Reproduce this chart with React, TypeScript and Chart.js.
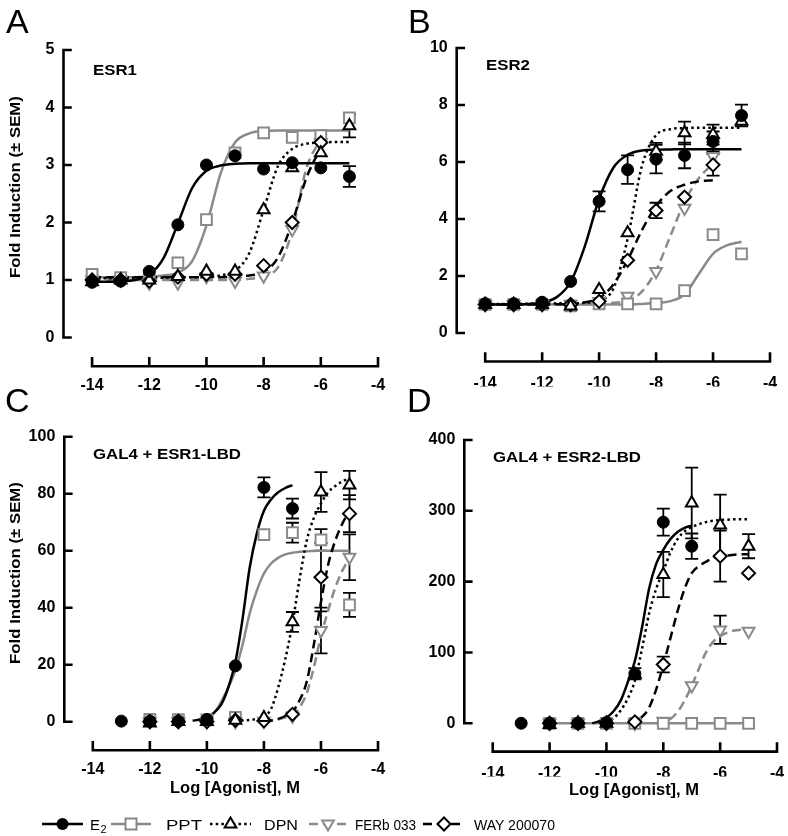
import React, { useEffect, useRef } from 'react';
import { Chart, registerables } from 'chart.js';

Chart.register(...registerables);

const BLACK = '#000000';
const GRAY = '#8a8a8a';
const FONT_FAMILY = "'Liberation Sans', Arial, Helvetica, sans-serif";

// ---------- shared axes ----------
const X_TICKS = [-14, -12, -10, -8, -6, -4];
const DOSE_AB = [-14, -13, -12, -11, -10, -9, -8, -7, -6, -5];
const DOSE_CD = [-13, -12, -11, -10, -9, -8, -7, -6, -5];
const FIT_AB = [-14, -13.5, -13, -12.5, -12, -11.5, -11, -10.5, -10, -9.5, -9, -8.5, -8, -7.5, -7, -6.5, -6, -5.5, -5];
const FIT_CD = [-12, -11.75, -11.5, -11.25, -11, -10.75, -10.5, -10.25, -10, -9.75, -9.5, -9.25, -9, -8.75, -8.5, -8.25, -8, -7.75, -7.5, -7.25, -7, -6.75, -6.5, -6.25, -6, -5.75, -5.5, -5.25, -5];

const A_Y_TICKS = [0, 1, 2, 3, 4, 5];
const B_Y_TICKS = [0, 2, 4, 6, 8, 10];
const C_Y_TICKS = [0, 20, 40, 60, 80, 100];
const D_Y_TICKS = [0, 100, 200, 300, 400];

// ---------- Panel A : ESR1 ----------
const A_E2 = [0.96, 0.98, 1.15, 1.96, 3.0, 3.16, 2.93, 3.04, 2.95, 2.8];
const A_E2_ERR = [null, null, null, null, null, null, null, null, null, 0.18];
const A_PPT = [1.1, 1.04, 1.08, 1.3, 2.05, 3.21, 3.56, 3.48, 3.51, 3.82];
const A_DPN = [0.97, 1.0, 1.0, 1.06, 1.15, 1.15, 2.22, 2.95, 3.21, 3.68];
const A_DPN_ERR = [null, null, null, null, null, null, null, null, null, 0.2];
const A_FERB = [1.0, 1.0, 0.95, 0.95, 1.06, 0.98, 1.07, 1.88, 3.39, null];
const A_WAY = [1.0, 1.0, 0.98, 1.05, 1.1, 1.1, 1.25, 2.0, 3.39, null];

const A_E2_FIT = [0.97, 0.97, 0.98, 1.0, 1.09, 1.38, 1.98, 2.6, 2.9, 2.99, 3.02, 3.03, 3.03, 3.03, 3.03, 3.03, 3.03, 3.03, 3.03];
const A_PPT_FIT = [1.05, 1.05, 1.05, 1.05, 1.06, 1.08, 1.13, 1.33, 1.95, 2.86, 3.39, 3.55, 3.59, 3.6, 3.6, 3.6, 3.6, 3.6, 3.6];
const A_DPN_FIT = [1.03, 1.03, 1.03, 1.04, 1.04, 1.04, 1.04, 1.05, 1.05, 1.08, 1.16, 1.47, 2.22, 2.98, 3.28, 3.37, 3.39, 3.4, 3.4];
const A_FERB_FIT = [1.0, 1.0, 1.0, 1.0, 1.0, 1.0, 1.0, 1.0, 1.0, 1.0, 1.0, 1.02, 1.06, 1.22, 1.85, 2.95, 3.45, null, null];
const A_WAY_FIT = [1.05, 1.05, 1.05, 1.05, 1.05, 1.05, 1.05, 1.05, 1.05, 1.05, 1.06, 1.08, 1.14, 1.39, 2.0, 2.78, 3.3, null, null];

// ---------- Panel B : ESR2 ----------
const B_E2 = [1.03, 1.03, 1.08, 1.81, 4.62, 5.73, 6.1, 6.23, 6.72, 7.63];
const B_E2_ERR = [null, null, null, null, 0.35, 0.5, 0.5, 0.45, 0.35, 0.38];
const B_PPT = [1.0, 1.0, 1.0, 0.95, 1.02, 1.02, 1.02, 1.49, 3.45, 2.78];
const B_DPN = [1.0, 1.0, 1.0, 0.94, 1.52, 3.51, 6.37, 7.02, 6.96, 7.43];
const B_DPN_ERR = [null, null, null, null, null, null, 0.3, 0.4, 0.35, null];
const B_FERB = [1.0, 1.0, 1.0, 1.0, 1.11, 1.29, 2.16, 4.38, 6.2, null];
const B_WAY = [1.0, 1.0, 1.0, 1.0, 1.11, 2.55, 4.3, 4.77, 5.9, null];
const B_WAY_ERR = [null, null, null, null, null, null, 0.27, null, 0.38, null];

const B_E2_FIT = [1.0, 1.0, 1.0, 1.02, 1.07, 1.25, 1.79, 3.05, 4.7, 5.8, 6.25, 6.4, 6.43, 6.44, 6.45, 6.45, 6.45, 6.45, 6.45];
const B_PPT_FIT = [1.0, 1.0, 1.0, 1.0, 1.0, 1.0, 1.0, 1.0, 1.0, 1.0, 1.0, 1.02, 1.05, 1.12, 1.35, 2.07, 2.78, 3.08, 3.2];
const B_DPN_FIT = [1.02, 1.02, 1.02, 1.03, 1.03, 1.04, 1.04, 1.06, 1.14, 1.56, 3.3, 5.85, 6.94, 7.15, 7.19, 7.2, 7.2, 7.2, 7.2];
const B_FERB_FIT = [1.0, 1.0, 1.0, 1.0, 1.0, 1.0, 1.0, 1.01, 1.02, 1.06, 1.13, 1.45, 2.2, 3.4, 4.6, 5.43, 5.95, null, null];
const B_WAY_FIT = [1.0, 1.0, 1.0, 1.0, 1.0, 1.01, 1.02, 1.08, 1.22, 1.7, 2.56, 3.6, 4.45, 4.98, 5.2, 5.32, 5.36, null, null];

// ---------- Panel C : GAL4 + ESR1-LBD ----------
const C_E2 = [0.2, 0.2, 0.2, 0.8, 19.6, 82.2, 74.8, null, null];
const C_E2_ERR = [null, null, null, null, null, 3.5, 3.5, null, null];
const C_PPT = [null, 0.8, 0.7, 0.6, 1.5, 65.6, 66.3, 63.8, 41];
const C_PPT_ERR = [null, null, null, null, null, null, 3.5, 3.8, 4.2];
const C_DPN = [null, -0.5, 0, 0, 0.5, 1.4, 35, 80.6, 83];
const C_DPN_ERR = [null, null, null, null, null, null, 3.5, 7, 5];
const C_FERB = [null, 0, 0, 0, 0, 0.2, 2.0, 32, 57.7];
const C_FERB_ERR = [null, null, null, null, null, null, null, 8, 8];
const C_WAY = [null, 0, 0, 0, 0.5, 0.3, 2.6, 50.7, 73];
const C_WAY_ERR = [null, null, null, null, null, null, null, 12, 6.5];

const C_E2_FIT = [null, null, null, null, null, null, 0.3, 0.8, 1.5, 3.2, 6, 12, 21, 36, 54, 66, 74, 78, 80.5, 82, 83, null, null, null, null, null, null, null, null];
const C_PPT_FIT = [null, null, null, null, null, null, null, null, 0.8, 3, 7, 12, 18, 27, 38, 46, 52, 55.5, 57.5, 58.7, 59.3, 59.6, 59.8, 59.9, 60, 60, 60, 60, 60];
const C_DPN_FIT = [null, null, null, null, null, null, null, null, null, null, null, null, 0.2, 0.4, 0.6, 1, 1.7, 4.5, 12, 22, 34.5, 50, 63.5, 71.5, 76.6, 80.5, 82.7, 84.3, 85.4];
const C_FERB_FIT = [null, null, null, null, null, null, null, null, null, null, null, null, null, null, null, null, 0, 0.3, 0.8, 1.5, 2.5, 5, 10, 19, 30, 39, 47, 53, 57.5];
const C_WAY_FIT = [null, null, null, null, null, null, null, null, null, null, null, null, null, null, null, null, 0, 0.4, 1, 2, 3.5, 7.5, 14, 27, 42, 55, 63.5, 69.5, 74];

// ---------- Panel D : GAL4 + ESR2-LBD ----------
const D_E2 = [0, 0, 0, 1, 70, 284, 250, null, null];
const D_E2_ERR = [null, null, null, null, 8, 19, 18, null, null];
const D_PPT = [null, 0, 0, 0, 0, 0, 0, 0, 0];
const D_DPN = [null, -2, 0, 0, 69, 210, 311, 280, 250];
const D_DPN_ERR = [null, null, null, null, null, 32, 50, 43, 17];
const D_FERB = [null, 0, 0, 0, 0, 3, 53, 132, 130];
const D_FERB_ERR = [null, null, null, null, null, null, null, 20, null];
const D_WAY = [null, 0, 0, 0, 2, 83, null, 236, 212];
const D_WAY_ERR = [null, null, null, null, null, 11, null, 36, null];

const D_E2_FIT = [null, null, null, null, null, null, 0, 3, 8, 17, 32, 58, 88, 135, 190, 225, 245, 260, 270, 276, 279, null, null, null, null, null, null, null, null];
const D_PPT_FIT = [0, 0, 0, 0, 0, 0, 0, 0, 0, 0, 0, 0, 0, 0, 0, 0, 0, 0, 0, 0, 0, 0, 0, 0, 0, 0, 0, 0, 0];
const D_DPN_FIT = [null, null, null, null, null, null, null, null, 0, 7, 18, 35, 60, 105, 155, 190, 215, 241, 260, 271, 277, 281, 284, 286, 287, 287.5, 288, 288, 288];
const D_FERB_FIT = [null, null, null, null, null, null, null, null, null, null, null, null, null, null, null, 0, 2, 6, 16, 32, 53, 77, 100, 115, 123, 128, 131, 132, 133];
const D_WAY_FIT = [null, null, null, null, null, null, null, null, null, null, null, 0, 3, 9, 22, 48, 82, 120, 158, 190, 212, 222, 228, 233, 236, 237, 238, 238.5, 238.5];

// ---------- styles ----------
type Key = 'E2' | 'PPT' | 'DPN' | 'FERB' | 'WAY';
const STYLE: Record<Key, any> = {
  E2: { color: BLACK, dash: [], pointStyle: 'circle', rotation: 0, fill: BLACK, radius: 6, pw: 1 },
  PPT: { color: GRAY, dash: [], pointStyle: 'rect', rotation: 0, fill: '#ffffff', radius: 7.6, pw: 2 },
  DPN: { color: BLACK, dash: [2.5, 3.2], pointStyle: 'triangle', rotation: 0, fill: '#ffffff', radius: 6.8, pw: 2 },
  FERB: { color: GRAY, dash: [9, 5], pointStyle: 'triangle', rotation: 180, fill: '#ffffff', radius: 6.8, pw: 2 },
  WAY: { color: BLACK, dash: [9, 5], pointStyle: 'rectRot', rotation: 0, fill: '#ffffff', radius: 6.5, pw: 2 },
};
const DRAW_ORDER: Key[] = ['E2', 'DPN', 'WAY', 'PPT', 'FERB'];

const PANELS: any[] = [
  {
    letter: 'A', title: 'ESR1',
    canvas: { left: 0, top: 0, w: 394, h: 400 },
    area: { L: 63.5, T: 50, R: 378, B: 366.25 },
    xPad: 10,
    yMin: -0.5, yMax: 5, yTicks: A_Y_TICKS, dose: DOSE_AB, fitX: FIT_AB,
    series: {
      E2: { pts: A_E2, err: A_E2_ERR, fit: A_E2_FIT },
      PPT: { pts: A_PPT, err: null, fit: A_PPT_FIT },
      DPN: { pts: A_DPN, err: A_DPN_ERR, fit: A_DPN_FIT },
      FERB: { pts: A_FERB, err: null, fit: A_FERB_FIT },
      WAY: { pts: A_WAY, err: null, fit: A_WAY_FIT },
    },
    letterPos: [6, 33], titlePos: [93, 75], yTitle: [20, 187], xTitle: null,
  },
  {
    letter: 'B', title: 'ESR2',
    canvas: { left: 394, top: 0, w: 394, h: 400 },
    area: { L: 456.7, T: 48, R: 770, B: 361.5 },
    xPad: 12,
    yMin: -1, yMax: 10, yTicks: B_Y_TICKS, dose: DOSE_AB, fitX: FIT_AB,
    series: {
      E2: { pts: B_E2, err: B_E2_ERR, fit: B_E2_FIT },
      PPT: { pts: B_PPT, err: null, fit: B_PPT_FIT },
      DPN: { pts: B_DPN, err: B_DPN_ERR, fit: B_DPN_FIT },
      FERB: { pts: B_FERB, err: null, fit: B_FERB_FIT },
      WAY: { pts: B_WAY, err: B_WAY_ERR, fit: B_WAY_FIT },
    },
    letterPos: [408, 33], titlePos: [486, 70], yTitle: null, xTitle: null,
  },
  {
    letter: 'C', title: 'GAL4 + ESR1-LBD',
    canvas: { left: 0, top: 380, w: 394, h: 420 },
    area: { L: 64.3, T: 436.7, R: 378, B: 750.2 },
    xPad: 10,
    yMin: -10, yMax: 100, yTicks: C_Y_TICKS, dose: DOSE_CD, fitX: FIT_CD,
    series: {
      E2: { pts: C_E2, err: C_E2_ERR, fit: C_E2_FIT },
      PPT: { pts: C_PPT, err: C_PPT_ERR, fit: C_PPT_FIT },
      DPN: { pts: C_DPN, err: C_DPN_ERR, fit: C_DPN_FIT },
      FERB: { pts: C_FERB, err: C_FERB_ERR, fit: C_FERB_FIT },
      WAY: { pts: C_WAY, err: C_WAY_ERR, fit: C_WAY_FIT },
    },
    letterPos: [5, 412], titlePos: [93, 459], yTitle: [20, 573], xTitle: [235, 793],
  },
  {
    letter: 'D', title: 'GAL4 + ESR2-LBD',
    canvas: { left: 394, top: 380, w: 394, h: 420 },
    area: { L: 464.3, T: 440, R: 777, B: 751.6 },
    xPad: 12,
    yMin: -40, yMax: 400, yTicks: D_Y_TICKS, dose: DOSE_CD, fitX: FIT_CD,
    series: {
      E2: { pts: D_E2, err: D_E2_ERR, fit: D_E2_FIT },
      PPT: { pts: D_PPT, err: null, fit: D_PPT_FIT },
      DPN: { pts: D_DPN, err: D_DPN_ERR, fit: D_DPN_FIT },
      FERB: { pts: D_FERB, err: D_FERB_ERR, fit: D_FERB_FIT },
      WAY: { pts: D_WAY, err: D_WAY_ERR, fit: D_WAY_FIT },
    },
    letterPos: [407, 412], titlePos: [493, 462], yTitle: null, xTitle: [634, 795],
  },
];

function stretchText(ctx: CanvasRenderingContext2D, text: string, x: number, y: number, font: string, sx: number, align: CanvasTextAlign, rotate = 0) {
  ctx.save();
  ctx.translate(x, y);
  if (rotate) ctx.rotate(rotate);
  ctx.scale(sx, 1);
  ctx.font = font;
  ctx.fillStyle = '#000';
  ctx.textAlign = align;
  ctx.textBaseline = 'alphabetic';
  ctx.fillText(text, 0, 0);
  ctx.restore();
}

function decorPlugin(spec: any) {
  const ox = spec.canvas.left;
  const oy = spec.canvas.top;
  return {
    id: 'decor' + spec.letter,
    beforeDatasetsDraw(chart: any) {
      const ctx = chart.ctx;
      const xs = chart.scales.x;
      const ys = chart.scales.y;
      ctx.save();
      ctx.strokeStyle = '#000';
      ctx.lineWidth = 1.8;
      ctx.setLineDash([]);
      chart.data.datasets.forEach((ds: any) => {
        if (!ds.errorBars) return;
        ds.data.forEach((p: any) => {
          if (p.e === null || p.e === undefined) return;
          const px = xs.getPixelForValue(p.x);
          const pt = ys.getPixelForValue(p.y + p.e);
          const pb = ys.getPixelForValue(p.y - p.e);
          ctx.beginPath();
          ctx.moveTo(px, pt);
          ctx.lineTo(px, pb);
          ctx.moveTo(px - 6.5, pt);
          ctx.lineTo(px + 6.5, pt);
          ctx.moveTo(px - 6.5, pb);
          ctx.lineTo(px + 6.5, pb);
          ctx.stroke();
        });
      });
      ctx.restore();
    },
    afterDraw(chart: any) {
      const ctx = chart.ctx;
      const xs = chart.scales.x;
      const ys = chart.scales.y;
      const { left, bottom } = chart.chartArea;
      ctx.save();
      ctx.strokeStyle = '#000';
      ctx.lineWidth = 2.6;
      ctx.setLineDash([]);
      ctx.lineCap = 'square';
      const y0 = ys.getPixelForValue(0);
      const yM = ys.getPixelForValue(spec.yMax);
      ctx.beginPath();
      ctx.moveTo(left, y0);
      ctx.lineTo(left, yM);
      spec.yTicks.forEach((v: number) => {
        const p = ys.getPixelForValue(v);
        ctx.moveTo(left, p);
        ctx.lineTo(left + 7, p);
      });
      const xa = xs.getPixelForValue(X_TICKS[0]);
      const xb = xs.getPixelForValue(X_TICKS[X_TICKS.length - 1]);
      ctx.moveTo(xa, bottom);
      ctx.lineTo(xb, bottom);
      X_TICKS.forEach((v) => {
        const p = xs.getPixelForValue(v);
        ctx.moveTo(p, bottom);
        ctx.lineTo(p, bottom - 8);
      });
      ctx.stroke();
      ctx.restore();

      stretchText(ctx, spec.letter, spec.letterPos[0] - ox, spec.letterPos[1] - oy, `34px ${FONT_FAMILY}`, 1, 'left');
      stretchText(ctx, spec.title, spec.titlePos[0] - ox, spec.titlePos[1] - oy, `bold 15px ${FONT_FAMILY}`, 1.12, 'left');
      if (spec.yTitle) {
        stretchText(ctx, 'Fold Induction (\u00b1 SEM)', spec.yTitle[0] - ox, spec.yTitle[1] - oy, `bold 15px ${FONT_FAMILY}`, 1.12, 'center', -Math.PI / 2);
      }
      if (spec.xTitle) {
        stretchText(ctx, 'Log [Agonist], M', spec.xTitle[0] - ox, spec.xTitle[1] - oy, `bold 16px ${FONT_FAMILY}`, 1.03, 'center');
      }
    },
  };
}

function buildConfig(spec: any) {
  const datasets: any[] = [];
  DRAW_ORDER.forEach((k) => {
    const s = spec.series[k];
    const st = STYLE[k];
    const data: any[] = [];
    spec.dose.forEach((x: number, i: number) => {
      const y = s.pts[i];
      if (y !== null && y !== undefined) data.push({ x, y, e: s.err ? s.err[i] : null });
    });
    datasets.push({
      label: k,
      data,
      showLine: false,
      pointStyle: st.pointStyle,
      pointRotation: st.rotation,
      pointRadius: st.radius,
      pointHoverRadius: st.radius,
      pointBackgroundColor: st.fill,
      pointBorderColor: st.color,
      pointBorderWidth: st.pw,
      clip: false,
      errorBars: true,
    });
  });
  DRAW_ORDER.forEach((k) => {
    const s = spec.series[k];
    const st = STYLE[k];
    const data: any[] = [];
    spec.fitX.forEach((x: number, i: number) => {
      const y = s.fit[i];
      if (y !== null && y !== undefined) data.push({ x, y });
    });
    datasets.push({
      label: k + ' fit',
      data,
      showLine: true,
      pointRadius: 0,
      pointHoverRadius: 0,
      borderColor: st.color,
      borderWidth: 2.5,
      borderDash: st.dash,
      borderCapStyle: 'butt',
      cubicInterpolationMode: 'monotone',
      fill: false,
      clip: false,
    });
  });
  const c = spec.canvas;
  const a = spec.area;
  const YW = 45;
  const XH = 25;
  const tickFont = { family: FONT_FAMILY, size: 16, weight: 'bold' as const };
  return {
    type: 'scatter' as const,
    data: { datasets },
    options: {
      animation: false as const,
      responsive: false,
      events: [],
      layout: {
        autoPadding: false,
        padding: {
          left: a.L - c.left - YW,
          top: a.T - c.top,
          right: c.left + c.w - a.R,
          bottom: c.top + c.h - a.B - XH,
        },
      },
      plugins: { legend: { display: false }, tooltip: { enabled: false } },
      scales: {
        x: {
          type: 'linear' as const,
          min: -15,
          max: -4,
          grid: { display: false, drawTicks: false },
          border: { display: false },
          afterBuildTicks: (s: any) => {
            s.ticks = X_TICKS.map((v) => ({ value: v }));
          },
          afterFit: (s: any) => {
            s.height = XH;
            s.paddingLeft = 0;
            s.paddingRight = 0;
          },
          ticks: {
            font: tickFont,
            color: '#000',
            padding: spec.xPad,
            maxRotation: 0,
            autoSkip: false,
            callback: (v: any) => String(v),
          },
        },
        y: {
          type: 'linear' as const,
          min: spec.yMin,
          max: spec.yMax,
          grid: { display: false, drawTicks: false },
          border: { display: false },
          afterBuildTicks: (s: any) => {
            s.ticks = spec.yTicks.map((v: number) => ({ value: v }));
          },
          afterFit: (s: any) => {
            s.width = YW;
            s.paddingTop = 0;
            s.paddingBottom = 0;
          },
          ticks: {
            font: tickFont,
            color: '#000',
            padding: 9,
            autoSkip: false,
            callback: (v: any) => String(v),
          },
        },
      },
    },
    plugins: [decorPlugin(spec)],
  };
}

function Panel({ spec }: { spec: any }) {
  const ref = useRef<HTMLCanvasElement>(null);
  useEffect(() => {
    const chart = new Chart(ref.current as HTMLCanvasElement, buildConfig(spec) as any);
    return () => chart.destroy();
  }, [spec]);
  const { left, top, w, h } = spec.canvas;
  return (
    <canvas
      ref={ref}
      width={w}
      height={h}
      style={{ position: 'absolute', left, top, width: w, height: h }}
    />
  );
}

const LEGEND_NAMES: Key[] = ['E2', 'PPT', 'DPN', 'FERB', 'WAY'];
const LEGEND_TEXT: Record<Key, string> = { E2: 'E', PPT: 'PPT', DPN: 'DPN', FERB: 'FERb 033', WAY: 'WAY 200070' };

function LegendMarker({ k, cx, cy }: { k: Key; cx: number; cy: number }) {
  const st = STYLE[k];
  if (k === 'E2') return <circle cx={cx} cy={cy} r={6} fill={BLACK} />;
  if (k === 'PPT') return <rect x={cx - 5.5} y={cy - 5.5} width={11} height={11} fill="#fff" stroke={st.color} strokeWidth={2} />;
  if (k === 'DPN')
    return <polygon points={`${cx},${cy - 6.5} ${cx + 5.8},${cy + 3.5} ${cx - 5.8},${cy + 3.5}`} fill="#fff" stroke={st.color} strokeWidth={2} />;
  if (k === 'FERB')
    return <polygon points={`${cx},${cy + 6.5} ${cx + 5.8},${cy - 3.5} ${cx - 5.8},${cy - 3.5}`} fill="#fff" stroke={st.color} strokeWidth={2} />;
  return <polygon points={`${cx},${cy - 6.5} ${cx + 6.5},${cy} ${cx},${cy + 6.5} ${cx - 6.5},${cy}`} fill="#fff" stroke={st.color} strokeWidth={2} />;
}

function Legend() {
  const cy = 24;
  const lineX = [42, 111, 210, 309, 423];
  const lineW = [41, 40, 41, 38, 42];
  const textX = [90, 166, 264, 355, 474];
  const textW = [10, 36, 34, 61, 81];
  return (
    <svg width={788} height={36} style={{ position: 'absolute', left: 0, top: 800 }}>
      {LEGEND_NAMES.map((k, i) => {
        const st = STYLE[k];
        const x0 = lineX[i];
        return (
          <g key={k}>
            <line
              x1={x0}
              y1={cy}
              x2={x0 + lineW[i]}
              y2={cy}
              stroke={st.color}
              strokeWidth={2.5}
              strokeDasharray={st.dash.length ? st.dash.join(' ') : undefined}
            />
            <LegendMarker k={k} cx={x0 + lineW[i] / 2} cy={cy} />
            <text
              x={textX[i]}
              y={cy + 5.5}
              fontFamily={FONT_FAMILY}
              fontSize={15}
              fill="#000"
              textLength={textW[i]}
              lengthAdjust="spacingAndGlyphs"
            >
              {LEGEND_TEXT[k]}
            </text>
            {k === 'E2' ? (
              <text x={textX[i] + 10.5} y={cy + 9} fontFamily={FONT_FAMILY} fontSize={11} fill="#000">
                2
              </text>
            ) : null}
          </g>
        );
      })}
    </svg>
  );
}

export default function App() {
  return (
    <div style={{ position: 'absolute', left: 0, top: 0, width: 788, height: 836, background: '#fff', overflow: 'hidden' }}>
      {PANELS.map((p) => (
        <Panel key={p.letter} spec={p} />
      ))}
      <Legend />
    </div>
  );
}
